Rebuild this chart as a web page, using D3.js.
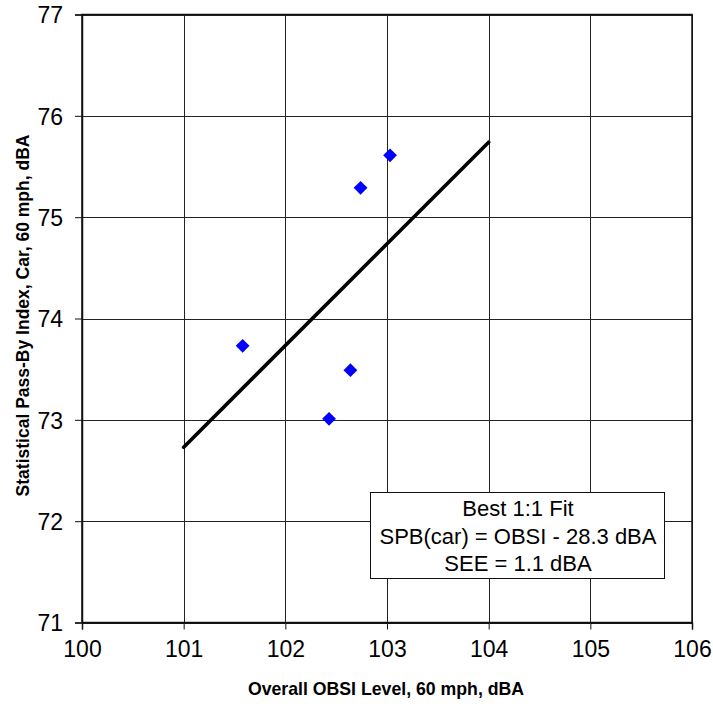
<!DOCTYPE html>
<html>
<head>
<meta charset="utf-8">
<script src="https://cdn.jsdelivr.net/npm/d3@7"></script>
<style>
  html, body { margin: 0; padding: 0; background: #fff; }
  svg { display: block; font-family: Arial, "Liberation Sans", sans-serif; }
</style>
</head>
<body>
<svg id="chart" width="713" height="704"></svg>
<script>
// Data
const obsi = [103.03, 102.74, 101.58, 102.64, 102.43];
const spb  = [75.61, 75.29, 73.73, 73.49, 73.01];
const fitX = [101, 104];
const fitY = [72.73, 75.74];
const xTicks = [100, 101, 102, 103, 104, 105, 106];
const yTicks = [71, 72, 73, 74, 75, 76, 77];
const xTitle = "Overall OBSI Level, 60 mph, dBA";
const yTitle = "Statistical Pass-By Index, Car, 60 mph, dBA";
const legendLines = ["Best 1:1 Fit", "SPB(car) = OBSI - 28.3 dBA", "SEE = 1.1 dBA"];

const svg = d3.select("#chart");
const L = 82, R = 692, T = 14.5, B = 622.5;

const x = d3.scaleLinear().domain([100, 106]).range([L, R]);
const y = d3.scaleLinear().domain([71, 77]).range([B, T]);

// gridlines
const grid = svg.append("g");
grid.selectAll("line.v").data(xTicks).join("line")
  .attr("x1", d => Math.round(x(d)) + 0.5).attr("x2", d => Math.round(x(d)) + 0.5)
  .attr("y1", T).attr("y2", B)
  .attr("stroke", "#222").attr("stroke-width", 1);
grid.selectAll("line.h").data(yTicks).join("line")
  .attr("y1", d => Math.round(y(d)) + 0.5).attr("y2", d => Math.round(y(d)) + 0.5)
  .attr("x1", L).attr("x2", R)
  .attr("stroke", "#222").attr("stroke-width", 1);

// frame
svg.append("rect").attr("x", L).attr("y", T).attr("width", R - L).attr("height", B - T)
  .attr("fill", "none").attr("stroke", "#111").attr("stroke-width", 1.5);

// axes
const xAxis = svg.append("g").attr("transform", `translate(0,${B})`)
  .call(d3.axisBottom(x).tickValues(xTicks).tickFormat(d3.format("d")).tickSize(7).tickPadding(11));
const yAxis = svg.append("g").attr("transform", `translate(${L},0)`)
  .call(d3.axisLeft(y).tickValues(yTicks).tickFormat(d3.format("d")).tickSize(7).tickPadding(12));
[xAxis, yAxis].forEach(a => {
  a.select(".domain").attr("stroke", "#111").attr("stroke-width", 1.5);
  a.selectAll(".tick line").attr("stroke", "#111");
  a.selectAll("text").attr("font-size", 23).attr("fill", "#000")
    .attr("font-family", "Arial, 'Liberation Sans', sans-serif");
});
yAxis.selectAll("text").attr("dy", "0.36em");
xAxis.selectAll("text").attr("dy", "0.72em");

// fit line
svg.append("line")
  .attr("x1", x(fitX[0])).attr("y1", y(fitY[0]))
  .attr("x2", x(fitX[1])).attr("y2", y(fitY[1]))
  .attr("stroke", "#000").attr("stroke-width", 3.6).attr("stroke-linecap", "round");

// points
const diamond = d3.symbol().type(d3.symbolSquare).size(95);
svg.selectAll("path.pt").data(obsi.map((v, i) => [v, spb[i]])).join("path")
  .attr("d", diamond())
  .attr("transform", d => `translate(${x(d[0])},${y(d[1])}) rotate(45)`)
  .attr("fill", "#0000ff");

// legend box
const bx = 370, by = 492, bw = 294, bh = 86;
svg.append("rect").attr("x", bx + 0.5).attr("y", by + 0.5).attr("width", bw).attr("height", bh)
  .attr("fill", "#fff").attr("stroke", "#111").attr("stroke-width", 1);
svg.selectAll("text.leg").data(legendLines).join("text")
  .attr("x", bx + bw / 2 + 1).attr("y", (d, i) => 516 + i * 27.5)
  .attr("text-anchor", "middle").attr("font-size", 22).attr("fill", "#000")
  .text(d => d);

// axis titles
svg.append("text").attr("x", (L + R) / 2 - 1).attr("y", 695)
  .attr("text-anchor", "middle").attr("font-size", 17.7).attr("font-weight", "bold")
  .text(xTitle);
svg.append("text").attr("transform", `translate(29,${(T + B) / 2 - 3}) rotate(-90)`)
  .attr("text-anchor", "middle").attr("font-size", 17.5).attr("font-weight", "bold")
  .text(yTitle);
</script>
</body>
</html>
